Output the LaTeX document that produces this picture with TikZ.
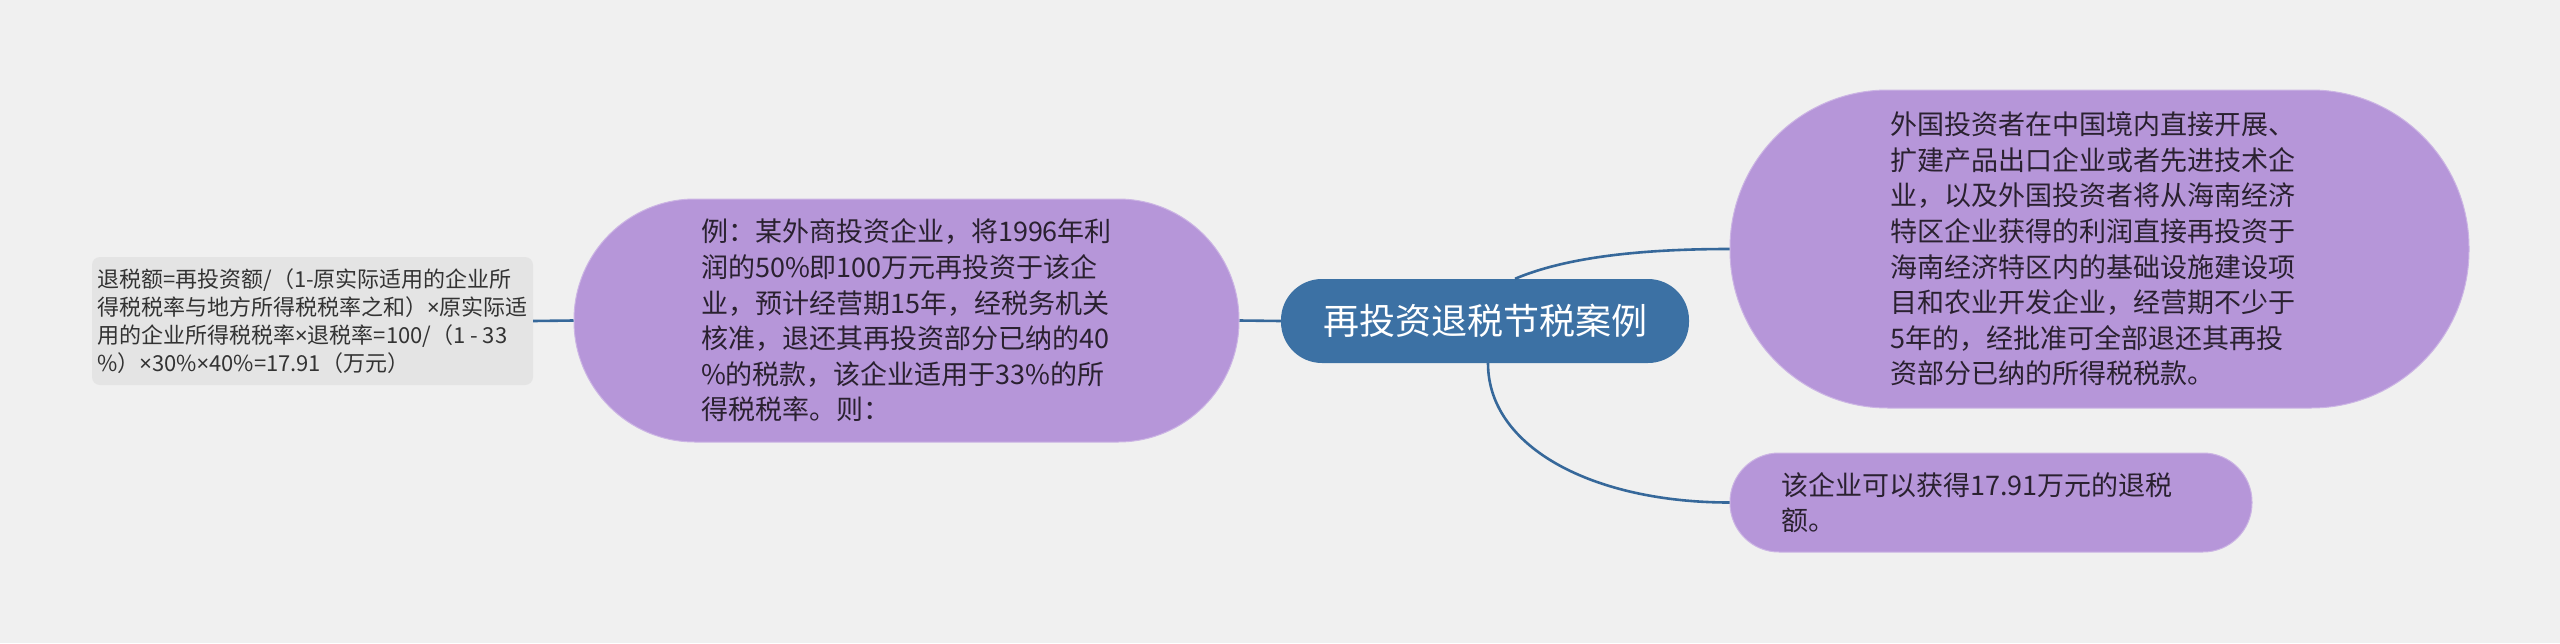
\documentclass[tikz,border=0pt]{standalone}
\usepackage{fontspec}
\newfontfamily\cjk{Noto Sans CJK SC}
\newfontfamily\latn{Noto Sans}
\newcommand\mytimes{{\latn ×}}
\usetikzlibrary{calc}
\definecolor{bgc}{HTML}{F0F0F0}
\definecolor{grayfill}{HTML}{E4E4E4}
\definecolor{purplefill}{HTML}{B696D9}
\definecolor{centerfill}{HTML}{3C71A4}
\definecolor{linec}{HTML}{36689A}
\definecolor{ptext}{HTML}{2A2130}
\definecolor{gtext}{HTML}{333333}
\tikzset{
  pill/.style={fill=purplefill, draw=purplefill!70!white, line width=1pt, inner sep=0pt, align=left, text=ptext,
    font=\cjk\fontsize{27pt}{35.6pt}\selectfont},
  graybox/.style={fill=grayfill, rounded corners=8pt, inner sep=0pt, align=left, text=gtext,
    font=\cjk\fontsize{22pt}{28pt}\selectfont},
  rootbox/.style={fill=centerfill, inner sep=0pt, text=white, font=\cjk\fontsize{36pt}{40pt}\selectfont},
  conn/.style={draw=linec, line width=2.6pt}
}
\begin{document}
\begin{tikzpicture}[x=1pt,y=-1pt]
\useasboundingbox[fill=bgc] (0,0) rectangle (2560,643);

\node[rootbox, minimum width=408pt, minimum height=84pt, rounded corners=41pt] (center) at (1485,321) {再投资退税节税案例};

\node[pill, minimum width=665pt, minimum height=243pt, rounded corners=121pt] (left) at (906.5,320.5)
{例：某外商投资企业，将1996年利\\润的50\%即100万元再投资于该企\\业，预计经营期15年，经税务机关\\核准，退还其再投资部分已纳的40\\\%的税款，该企业适用于33\%的所\\得税税率。则：};

\node[graybox, minimum width=441pt, minimum height=128pt] (gray) at (312.5,321)
{退税额=再投资额/（1-原实际适用的企业所\\得税税率与地方所得税税率之和）\mytimes 原实际适\\用的企业所得税税率\mytimes 退税率=100/（1 - 33\\\%）\mytimes 30\%\mytimes 40\%=17.91（万元）};

\node[pill, minimum width=739pt, minimum height=318pt, rounded corners=158pt] (rt) at (2099.5,249)
{外国投资者在中国境内直接开展、\hspace*{14pt}\\扩建产品出口企业或者先进技术企\\业，以及外国投资者将从海南经济\\特区企业获得的利润直接再投资于\\海南经济特区内的基础设施建设项\\目和农业开发企业，经营期不少于\\5年的，经批准可全部退还其再投\\资部分已纳的所得税税款。};

\node[pill, minimum width=522pt, minimum height=99pt, rounded corners=49pt] (rb) at (1991,502.5)
{该企业可以获得17.91万元的退税\hspace*{28pt}\\额。};

\draw[conn] (center.west) -- (left.east);
\draw[conn] (left.west) -- (gray.east);
\draw[conn] ($(center.north)+(30,0)$) .. controls ($(center.north)+(70,-17)$) and ($(rt.west)+(-110,0)$) .. (rt.west);
\draw[conn] ($(center.south)+(3,0)$) .. controls ($(center.south)+(3,85)$) and ($(rb.west)+(-135,0)$) .. (rb.west);
\end{tikzpicture}
\end{document}
